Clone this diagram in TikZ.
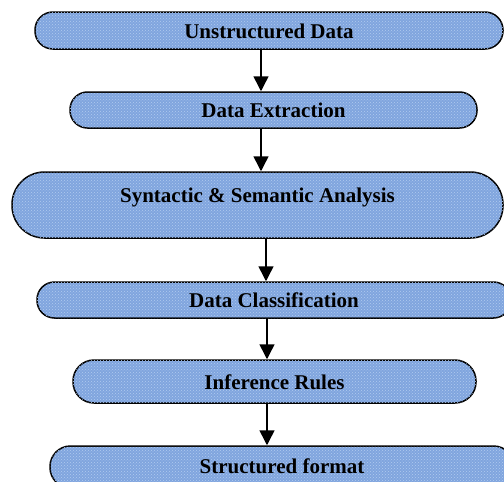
\documentclass[tikz,border=0pt]{standalone}
\usepackage{fontspec}
\setmainfont{Liberation Serif}
\usetikzlibrary{arrows.meta,patterns}
\definecolor{boxblue}{RGB}{128,165,222}
\definecolor{dotblue}{RGB}{178,203,240}
\tikzset{
  stage/.style={draw=black, line width=1.5pt, fill=boxblue, rectangle,
    postaction={pattern=crosshatch dots, pattern color=dotblue},
    inner sep=0pt, text height=17pt, text depth=2pt,
    font=\fontsize{21}{25}\selectfont\bfseries},
  flow/.style={line width=1.5pt, -{Triangle[length=15pt,width=15pt]}}
}
\begin{document}
\begin{tikzpicture}[x=1pt,y=-1pt]
\useasboundingbox (0,0) rectangle (504,482);
\node[stage, rounded corners=18pt, minimum width=468pt, minimum height=37pt] (n1) at (269,30.5) {Unstructured Data};
\node[stage, rounded corners=17.5pt, minimum width=407pt, minimum height=36pt] (n2) at (273.5,110) {Data Extraction};
\node[stage, rounded corners=32.5pt, minimum width=491pt, minimum height=66pt, text depth=23pt] (n3) at (257.5,205) {Syntactic \& Semantic Analysis};
\node[stage, rounded corners=17.5pt, minimum width=474pt, minimum height=36pt] (n4) at (274,300) {Data Classification};
\node[stage, rounded corners=21pt, minimum width=403pt, minimum height=43pt] (n5) at (274.5,381.5) {Inference Rules};
\node[stage, rounded corners=20.5pt, minimum width=464pt, minimum height=42pt, text depth=5pt] (n6) at (282,467) {Structured format};
\coordinate (a1) at (261,0);
\coordinate (a2) at (261,0);
\coordinate (a3) at (266,0);
\coordinate (a4) at (267,0);
\coordinate (a5) at (267,0);
\draw[flow] (n1.south -| a1) -- (n2.north -| a1);
\draw[flow] (n2.south -| a2) -- (n3.north -| a2);
\draw[flow] (n3.south -| a3) -- (n4.north -| a3);
\draw[flow] (n4.south -| a4) -- (n5.north -| a4);
\draw[flow] (n5.south -| a5) -- (n6.north -| a5);
\end{tikzpicture}
\end{document}
